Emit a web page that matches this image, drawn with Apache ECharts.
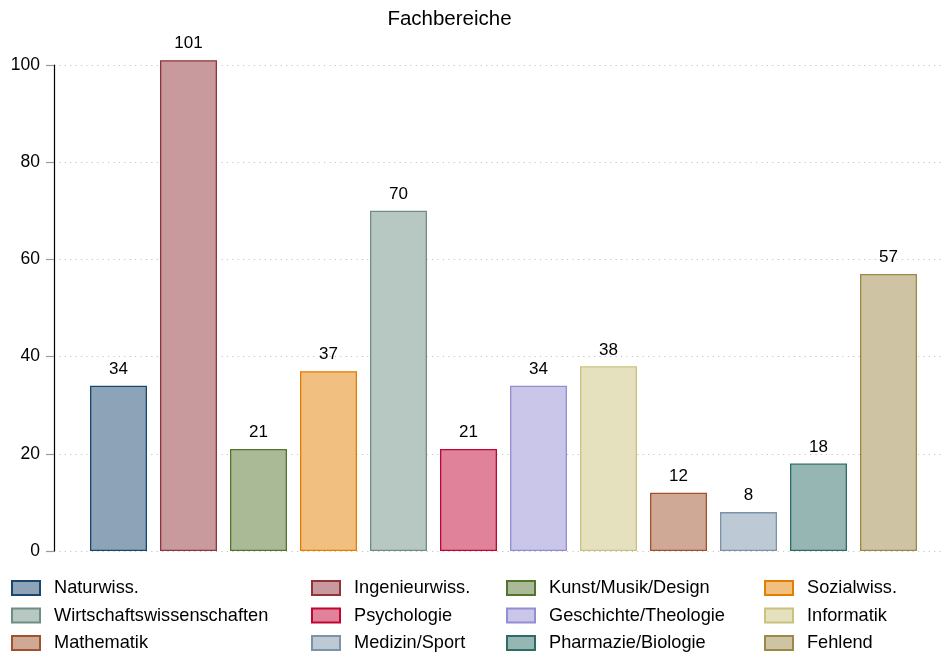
<!DOCTYPE html>
<html>
<head>
<meta charset="utf-8">
<script src="https://cdn.jsdelivr.net/npm/echarts@6/dist/echarts.min.js"></script>
<style>
html,body{margin:0;padding:0;background:#fff;}
#chart{width:947px;height:653px;}
</style>
</head>
<body>
<div id="chart"></div>
<script>
const categories = ['Naturwiss.','Ingenieurwiss.','Kunst/Musik/Design','Sozialwiss.','Wirtschaftswissenschaften','Psychologie','Geschichte/Theologie','Informatik','Mathematik','Medizin/Sport','Pharmazie/Biologie','Fehlend'];
const values = [34,101,21,37,70,21,34,38,12,8,18,57];
const yTicks = [0,20,40,60,80,100];
const title = 'Fachbereiche';

const lineColors = ['#1a476f','#90353b','#55752f','#e37e00','#6e8e84','#c10534','#938dd2','#cac27e','#a0522d','#7b92a8','#2d6d66','#9c8847'];
function blend(hex){
  const n = parseInt(hex.slice(1),16);
  const r = Math.round(((n>>16)&255)*0.5+127.5);
  const g = Math.round(((n>>8)&255)*0.5+127.5);
  const b = Math.round((n&255)*0.5+127.5);
  return 'rgb('+r+','+g+','+b+')';
}
const FONT = '"Liberation Sans", Arial, Helvetica, sans-serif';

const series = categories.map((name,i)=>({
  name: name,
  type: 'bar',
  data: [[i, values[i]]],
  barWidth: 57,
  barGap: '-100%',
  clip: false,
  itemStyle: {color: blend(lineColors[i]), borderColor: lineColors[i], borderWidth: 1.3},
  label: {show: true, position: 'top', distance: 8, color: '#000', fontSize: 17, fontFamily: FONT,
          formatter: p => String(p.value[1])},
  emphasis: {disabled: true}
}));

const colLeft = [11, 311, 506, 764];
const rowCenter = [586, 613.5, 641];
const legends = categories.map((name,i)=>({
  orient: 'horizontal',
  left: colLeft[i % 4],
  top: rowCenter[Math.floor(i / 4)] - 7,
  padding: 0,
  icon: 'rect',
  itemWidth: 28,
  itemHeight: 14,
  selectedMode: false,
  data: [name],
  textStyle: {fontSize: 18.2, fontFamily: FONT, color: '#000', lineHeight: 14, padding: [0,0,0,9]}
}));

const chart = echarts.init(document.getElementById('chart'), null, {renderer: 'canvas'});
chart.setOption({
  animation: false,
  backgroundColor: '#fff',
  title: {text: title, left: 449.5, top: 9, padding: 0, textAlign: 'center',
          textStyle: {fontSize: 20.5, fontWeight: 'normal', color: '#000', fontFamily: FONT}},
  grid: {left: 54, right: 2, top: 65, bottom: 102, containLabel: false},
  xAxis: {type: 'value', min: -0.9214, max: 11.807, show: false},
  yAxis: {
    type: 'value', min: yTicks[0], max: yTicks[yTicks.length-1], interval: 20,
    axisLine: {show: true, onZero: false, lineStyle: {color: '#000', width: 1.2}},
    axisTick: {show: true, length: 8, lineStyle: {color: '#999', width: 1.2}},
    axisLabel: {margin: 14, color: '#000', fontSize: 17.5, fontFamily: FONT},
    splitLine: {show: true, lineStyle: {color: '#c4c4c4', width: 1, type: [1.2, 4.2]}}
  },
  legend: legends,
  series: series
});
</script>
</body>
</html>
